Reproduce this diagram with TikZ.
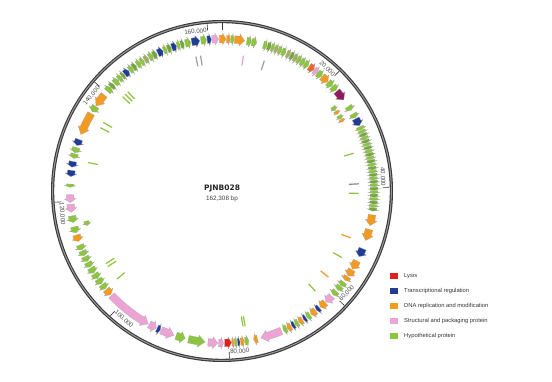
\documentclass[tikz,border=0pt]{standalone}
\usepackage{fontspec}
\setmainfont{Liberation Sans}
\newfontfamily\titlefont{DejaVu Sans}
\definecolor{cG}{HTML}{8CC63F}
\definecolor{cGd}{HTML}{74A83A}
\definecolor{cGb}{HTML}{A4AD62}
\definecolor{cO}{HTML}{F39A22}
\definecolor{cOr}{HTML}{E8692A}
\definecolor{cR}{HTML}{E0201B}
\definecolor{cB}{HTML}{1F3C96}
\definecolor{cP}{HTML}{EBA4D4}
\definecolor{cM}{HTML}{8C1D5C}
\definecolor{cGr}{HTML}{A09AA0}
\definecolor{cPu}{HTML}{9A7A9A}
\newcommand\drawgene[5]{%
  \pgfmathsetmacro\gA{90-(#1)}%
  \pgfmathsetmacro\gB{90-(#2)}%
  \pgfmathsetmacro\gL{abs((#2)-(#1))}%
  \pgfmathsetmacro\gHd{min(0.5*\gL,2.6)}%
  \pgfmathsetmacro\gH{((#2)>(#1)) ? (\gB+\gHd) : (\gB-\gHd)}%
  \pgfmathsetmacro\gRi{#4-#5}\pgfmathsetmacro\gRo{#4+#5}%
  \pgfmathsetmacro\gRhi{#4-1.55*#5}\pgfmathsetmacro\gRho{#4+1.55*#5}%
  \filldraw[fill=#3, genefill] (\gA:\gRi pt) arc[start angle=\gA, end angle=\gH, radius=\gRi pt]
    -- (\gH:\gRhi pt) -- (\gB:#4 pt) -- (\gH:\gRho pt) -- (\gH:\gRo pt)
    arc[start angle=\gH, end angle=\gA, radius=\gRo pt] -- cycle;}
\tikzset{
  genefill/.style={draw=black!35, line width=0.2pt},
  ticklab/.style={font=\fontsize{6.2}{7}\selectfont, text=black!70, inner sep=0.8pt},
  legtext/.style={font=\fontsize{5.8}{7}\selectfont, text=black!80, anchor=west, inner sep=0pt},
  legbox/.style={minimum width=8pt, minimum height=6pt, inner sep=0pt},
  innermark/.style={line width=1.2pt},
  tickline/.style={draw=black!80, line width=0.6pt},
}
\begin{document}
\begin{tikzpicture}[x=1pt,y=1pt]
\useasboundingbox (0,0) rectangle (552,382);
\fill[white] (0,0) rectangle (552,382);
\begin{scope}[shift={(222,191)}]
  % ring
  \draw[line width=3.2pt, black!78] (0,0) circle[radius=169.4pt];
  \draw[line width=1pt, black!40] (0,0) circle[radius=169.4pt];
  % ticks
  \foreach \t in {0,44.36,88.72,133.08,177.44,221.80,266.16,310.52,354.89}
    \draw[tickline] ({90-\t}:167.5pt) -- ({90-\t}:161pt);
  % tick labels
  \node[ticklab, anchor=east, rotate=-44.36] (l20) at ({90-44.36}:161pt) {20,000};
  \node[ticklab, anchor=east, rotate=-88.72] (l40) at ({90-88.72}:161pt) {40,000};
  \node[ticklab, anchor=west, rotate=46.92] (l60) at ({90-133.08}:161pt) {60,000};
  \node[ticklab, anchor=west, rotate=2.56] (l80) at ({90-177.44}:161pt) {80,000};
  \node[ticklab, anchor=west, rotate=-41.80] (l100) at ({90-221.80}:161pt) {100,000};
  \node[ticklab, anchor=west, rotate=-86.16] (l120) at ({90-266.16}:161pt) {120,000};
  \node[ticklab, anchor=east, rotate=49.48] (l140) at ({90-310.52}:161pt) {140,000};
  \node[ticklab, anchor=east, rotate=5.11] (l160) at ({90-354.89}:161pt) {160,000};
  % dense right cluster
  \foreach \i in {0,2,...,22} {\pgfmathsetmacro\sa{66.5+1.3*\i}\pgfmathsetmacro\sb{\sa+1.2}\drawgene{\sa}{\sb}{cG}{152}{3.8}}
  \foreach \i in {1,3,...,23} {\pgfmathsetmacro\sa{66.5+1.3*\i}\pgfmathsetmacro\sb{\sa+1.2}\drawgene{\sa}{\sb}{cGd}{152}{3.8}}
  % main track genes
  \foreach \a/\b/\c in {
    -1/1.5/cO, 1.7/3.2/cO, 3.3/4.6/cG, 4.7/8.6/cO, 9.4/11.2/cG, 11.3/13.2/cG,
    15.8/17.3/cG, 17.4/18.8/cGd, 18.9/20.2/cG, 20.3/21.6/cGb, 21.7/23.1/cG, 23.2/24.8/cG,
    25.2/26.6/cGb, 26.7/28.1/cGd, 28.2/29.6/cGb, 29.7/31.2/cG, 31.3/32.8/cG, 32.9/34.6/cG,
    35/37.2/cOr, 37.3/38.9/cP, 39/41/cG, 41.2/44.1/cO, 44.3/46.4/cG, 46.6/48.6/cG,
    49/53.2/cM, 56.2/58/cG, 59.5/61.2/cG, 61.6/64.6/cB, 65/66.4/cG,
    99/103.2/cO, 104.6/109/cO, 112.3/115.6/cB, 117.4/120.9/cO, 121.2/124/cO, 124.3/126/cO,
    126.8/128.6/cG, 128.8/130.6/cG, 131.3/133.1/cG, 133.8/136.9/cP, 137.2/139.8/cO,
    140.2/141.6/cB, 142/144.2/cO, 144.6/146.2/cG, 146.5/147.6/cB, 148/149.7/cO,
    149.9/151.3/cG, 151.5/152.7/cB, 153/154.6/cO, 154.8/156.3/cG, 157/165.2/cP,
    166.5/168/cO,
    171.3/169.8/cG, 173/171.5/cO, 174.1/173.2/cB, 175.3/174.2/cG, 176.3/175.4/cO,
    179/176.4/cR, 181.3/179.4/cP, 185.3/181.6/cP, 192.8/186.4/cG, 197.6/194/cG,
    203.6/198.4/cP, 205.3/203.9/cB, 208.6/205.6/cP, 226.6/209/cP, 229.6/227/cO,
    232/230/cG, 234.6/232.4/cG, 237/234.9/cG, 239.6/237.4/cG, 242/240/cG,
    244.4/242.4/cG, 246.8/244.8/cG, 249.2/247.2/cG, 253.2/250.6/cO, 256.4/254/cG,
    260.6/258/cG, 265/262/cP, 268.6/265.6/cP, 272.6/271.4/cG, 277.8/275.4/cB,
    281.2/279/cB, 284.2/282.4/cG, 286.6/284.6/cG, 289.8/287.4/cB, 300.6/291.8/cO,
    303.8/301.4/cG, 309.2/304/cO,
    311/313/cG, 313.1/314.6/cGd, 315/317/cG, 317.2/318.7/cG, 318.9/320/cGd,
    320.2/322.2/cB, 322.5/324/cG, 324.1/325.6/cGd, 326/327.6/cG, 327.7/329.1/cG,
    329.4/331/cGb, 331.3/332.9/cG, 333/334.6/cGd, 335/337.2/cB, 337.4/338.8/cG,
    339/340.5/cGd, 340.7/342.6/cB, 342.8/344.1/cG, 344.2/345.6/cGd, 346/348.2/cG,
    348.5/351.6/cB, 352/354.2/cG, 354.4/356/cB, 356.2/358.7/cP}
    {\drawgene{\a}{\b}{\c}{152}{3.8}}
  % second track genes
  \foreach \a/\b/\c in {52.8/54.6/cG, 55/56.4/cO, 57.2/58.8/cG, 59/60.2/cO, 257.5/255.6/cG}
    {\drawgene{\a}{\b}{\c}{139}{2.6}}
  % inner marks
  \foreach \t/\c in {349/cGr, 351/cGr, 9/cP, 18/cGr, 313.5/cG, 315/cG, 316.5/cG, 300/cG,
    297.5/cG, 282/cG, 74/cG, 87/cPu, 91/cG, 110/cO, 119/cG, 129/cO, 137/cG, 230/cG,
    236.5/cG, 238/cG, 170.3/cG, 171.2/cG}
    {\draw[innermark, \c] ({90-\t}:127pt) -- ({90-\t}:137pt);}
\end{scope}
% title
\node[font=\titlefont\bfseries\fontsize{7.5}{9}\selectfont, text=black!85, inner sep=0pt] (title) at (222,194) {PJNB028};
\node[font=\fontsize{6.3}{8}\selectfont, text=black!75, inner sep=0pt] (size) at (222,183) {162,308 bp};
% legend
\foreach \y/\c/\t [count=\i] in {106/cR/Lysis, 91/cB/Transcriptional regulation, 76/cO/DNA replication and modification, 61/cP/Structural and packaging protein, 46/cG/Hypothetical protein} {
  \node[legbox, fill=\c] (lb\i) at (394,\y) {};
  \node[legtext] (lt\i) at (404,\y) {\t};
}
\end{tikzpicture}
\end{document}
